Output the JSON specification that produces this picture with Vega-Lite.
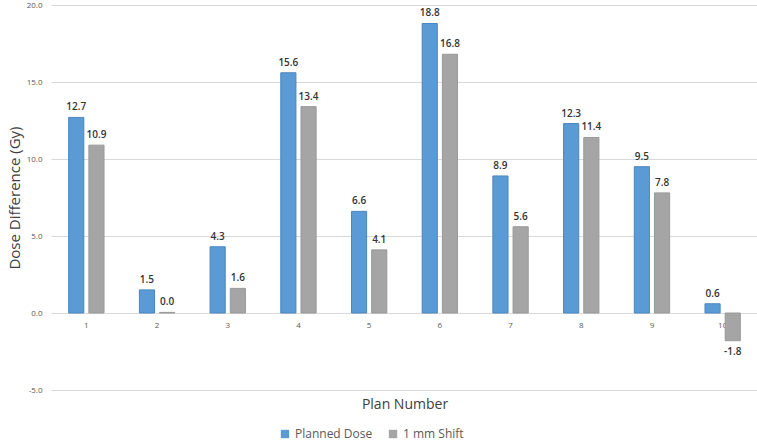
{
  "$schema": "https://vega.github.io/schema/vega-lite/v6.json",
  "width": 707,
  "height": 385,
  "padding": {"left": 7, "top": 1, "right": 1, "bottom": 2},
  "background": "white",
  "config": {
    "font": "Open Sans",
    "view": {"stroke": null},
    "axis": {"labelFont": "Open Sans", "titleFont": "Open Sans"},
    "locale": {"number": {"decimal": ".", "thousands": ",", "grouping": [3], "currency": ["$", ""], "minus": "-"}}
  },
  "data": {
    "values": [
      {"plan": "1", "series": "Planned Dose", "value": 12.7},
      {"plan": "1", "series": "1 mm Shift", "value": 10.9},
      {"plan": "2", "series": "Planned Dose", "value": 1.5},
      {"plan": "2", "series": "1 mm Shift", "value": 0.04},
      {"plan": "3", "series": "Planned Dose", "value": 4.3},
      {"plan": "3", "series": "1 mm Shift", "value": 1.6},
      {"plan": "4", "series": "Planned Dose", "value": 15.6},
      {"plan": "4", "series": "1 mm Shift", "value": 13.4},
      {"plan": "5", "series": "Planned Dose", "value": 6.6},
      {"plan": "5", "series": "1 mm Shift", "value": 4.1},
      {"plan": "6", "series": "Planned Dose", "value": 18.8},
      {"plan": "6", "series": "1 mm Shift", "value": 16.8},
      {"plan": "7", "series": "Planned Dose", "value": 8.9},
      {"plan": "7", "series": "1 mm Shift", "value": 5.6},
      {"plan": "8", "series": "Planned Dose", "value": 12.3},
      {"plan": "8", "series": "1 mm Shift", "value": 11.4},
      {"plan": "9", "series": "Planned Dose", "value": 9.5},
      {"plan": "9", "series": "1 mm Shift", "value": 7.8},
      {"plan": "10", "series": "Planned Dose", "value": 0.6},
      {"plan": "10", "series": "1 mm Shift", "value": -1.8}
    ]
  },
  "encoding": {
    "x": {
      "field": "plan",
      "type": "nominal",
      "sort": ["1", "2", "3", "4", "5", "6", "7", "8", "9", "10"],
      "scale": {"paddingInner": 0.5, "paddingOuter": 0.25},
      "axis": {
        "title": "Plan Number",
        "titleFontSize": 14,
        "titleFontWeight": "normal",
        "titleColor": "#404040",
        "titlePadding": 68,
        "labelAngle": 0,
        "labelFontSize": 8,
        "labelColor": "#595959",
        "labelPadding": 8,
        "ticks": false,
        "domainColor": "#d9d9d9",
        "offset": -77
      }
    },
    "xOffset": {
      "field": "series",
      "type": "nominal",
      "sort": ["Planned Dose", "1 mm Shift"],
      "scale": {"paddingInner": 0.25, "paddingOuter": 0}
    },
    "y": {
      "field": "value",
      "type": "quantitative",
      "scale": {"domain": [-5, 20], "nice": false},
      "axis": {
        "title": "Dose Difference (Gy)",
        "titleFontSize": 15,
        "titleFontWeight": "normal",
        "titleColor": "#404040",
        "titlePadding": 4,
        "values": [-5, 0, 5, 10, 15, 20],
        "format": ".1f",
        "labelFontSize": 8,
        "labelColor": "#595959",
        "labelPadding": 9,
        "ticks": false,
        "domain": false,
        "gridColor": "#d9d9d9"
      }
    }
  },
  "layer": [
    {
      "mark": {"type": "bar", "strokeWidth": 1},
      "encoding": {
        "color": {
          "field": "series",
          "type": "nominal",
          "sort": ["Planned Dose", "1 mm Shift"],
          "scale": {"domain": ["Planned Dose", "1 mm Shift"], "range": ["#5B9BD5", "#A5A5A5"]},
          "legend": {
            "title": null,
            "orient": "none",
            "legendX": 228,
            "legendY": 423,
            "direction": "horizontal",
            "symbolType": "square",
            "symbolSize": 70,
            "symbolStrokeWidth": 0,
            "labelFontSize": 12,
            "labelColor": "#595959",
            "labelFont": "Open Sans",
            "columnPadding": 14
          }
        },
        "stroke": {
          "field": "series",
          "type": "nominal",
          "scale": {"domain": ["Planned Dose", "1 mm Shift"], "range": ["#4A86C0", "#999999"]},
          "legend": null
        }
      }
    },
    {
      "transform": [{"filter": "datum.value >= 0"}],
      "mark": {"type": "text", "baseline": "bottom", "dy": -5, "fontSize": 10, "fontWeight": 600, "color": "#333333"},
      "encoding": {"text": {"field": "value", "type": "quantitative", "format": ".1f"}}
    },
    {
      "transform": [{"filter": "datum.value < 0"}],
      "mark": {"type": "text", "baseline": "top", "dy": 6, "fontSize": 10, "fontWeight": 600, "color": "#333333"},
      "encoding": {"text": {"field": "value", "type": "quantitative", "format": ".1f"}}
    }
  ]
}
